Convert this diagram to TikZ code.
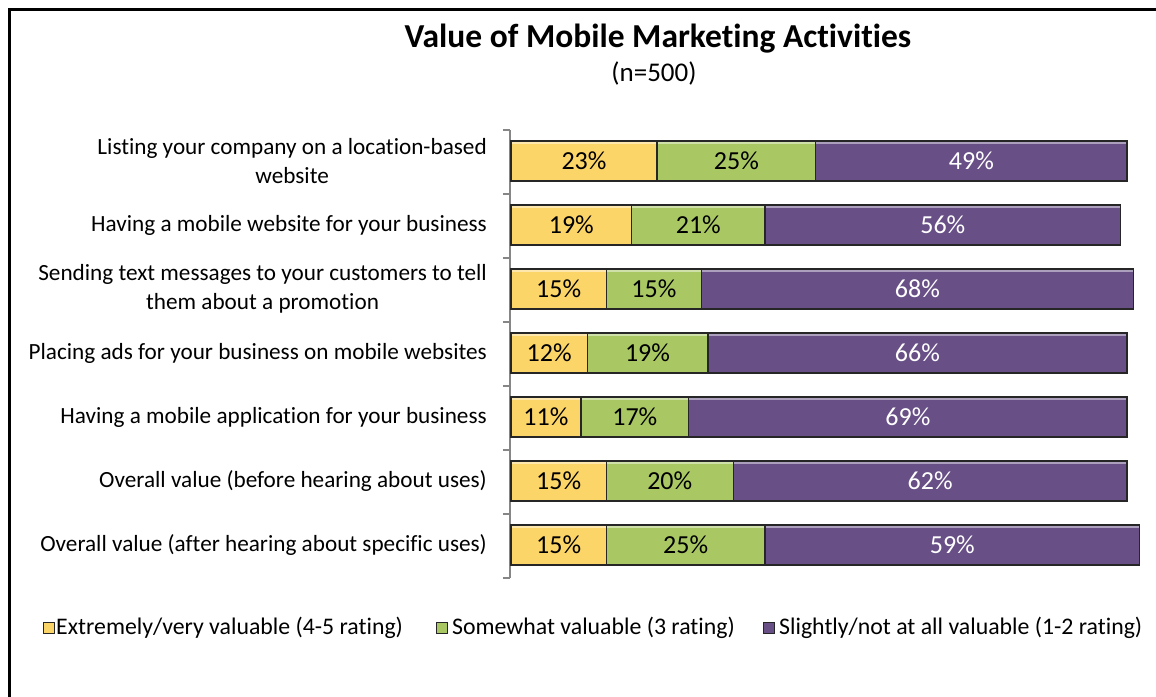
\documentclass[tikz,border=0pt]{standalone}
\usepackage{fontspec}
\setmainfont{Carlito}[Ligatures=NoCommon]
\definecolor{yel}{HTML}{FCD568}
\definecolor{grn}{HTML}{A9C864}
\definecolor{pur}{HTML}{685087}
\definecolor{edge}{HTML}{262626}
\definecolor{axisgray}{HTML}{868686}
\tikzset{
  seg/.style={draw=edge, line width=1.3pt, rectangle, inner sep=0pt, outer sep=0pt,
    minimum height=40pt, anchor=west, font=\fontsize{26}{30}\selectfont,
    path picture={\draw[white,opacity=0.45,line width=2pt]
      ([yshift=-1.6pt]path picture bounding box.north west) -- ([yshift=-1.6pt]path picture bounding box.north east);}},
  catlabel/.style={anchor=east, align=center, inner sep=0pt, font=\fontsize{23.2}{29}\selectfont},
  legsq/.style={draw=edge, line width=1pt, minimum size=11pt, inner sep=0pt, outer sep=0pt},
  legtext/.style={anchor=west, inner sep=0pt, font=\fontsize{23.8}{27}\selectfont},
  axisline/.style={axisgray, line width=1.5pt},
}
\begin{document}
\begin{tikzpicture}[x=1pt,y=-1pt]
\useasboundingbox (0,0) rectangle (1156,696);
% frame (only top and left edges are visible)
\draw[line width=2.5pt] (9.5,700) -- (9.5,9.5) -- (1160,9.5);
% title
\node[font=\fontsize{33.5}{38}\selectfont\bfseries] (title) at (658,39) {Value of Mobile Marketing Activities};
\node[font=\fontsize{27}{30}\selectfont] (n) at (654,73) {(n=500)};
% axis
\coordinate (axtop) at (510,130);
\coordinate (axbot) at (510,578);
\draw[axisline] (axtop) -- (axbot);
\foreach \k in {0,...,7}{
  \draw[axisline] (503,130+64*\k) -- (510,130+64*\k);
}
% bars
\foreach \i/\a/\b/\c/\lab in {
  1/23/25/49/{Listing your company on a location-based\\website},
  2/19/21/56/{Having a mobile website for your business},
  3/15/15/68/{Sending text messages to your customers to tell\\them about a promotion},
  4/12/19/66/{Placing ads for your business on mobile websites},
  5/11/17/69/{Having a mobile application for your business},
  6/15/20/62/{Overall value (before hearing about uses)},
  7/15/25/59/{Overall value (after hearing about specific uses)}}{
  \pgfmathsetmacro{\yc}{161+64*(\i-1)}
  \node[catlabel] (c\i) at (487,\yc) {\lab};
  \node[seg, fill=yel, minimum width={\a*6.35pt}] (y\i) at (511,\yc) {\a\%};
  \node[seg, fill=grn, minimum width={\b*6.35pt}] (g\i) at (y\i.east) {\b\%};
  \node[seg, fill=pur, text=white, minimum width={\c*6.35pt}] (p\i) at (g\i.east) {\c\%};
}
% legend
\node[legsq, fill=yel] (l1) at (48.5,628) {};
\node[legtext] (t1) at (56,628) {Extremely/very valuable (4-5 rating)};
\node[legsq, fill=grn] (l2) at (442,628) {};
\node[legtext] (t2) at (452,628) {Somewhat valuable (3 rating)};
\node[legsq, fill=pur] (l3) at (769,628) {};
\node[legtext] (t3) at (779,628) {Slightly/not at all valuable (1-2 rating)};
\end{tikzpicture}
\end{document}
